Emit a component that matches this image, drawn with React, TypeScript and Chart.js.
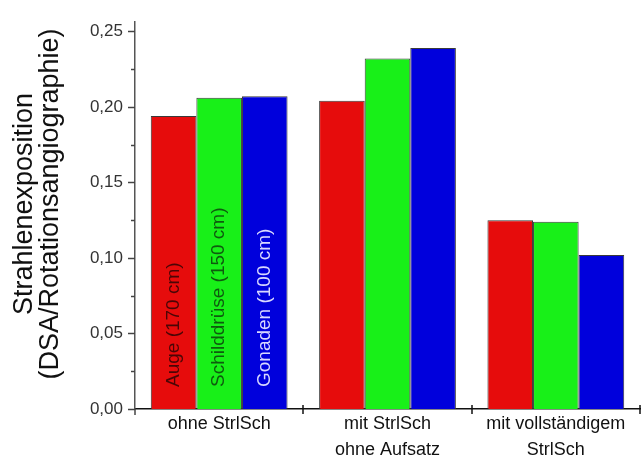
import React, { useEffect, useRef } from 'react';
import { Chart, registerables } from 'chart.js';

Chart.register(...registerables);

// ---- data ----
const categories: string[][] = [
  ['ohne StrlSch'],
  ['mit StrlSch', 'ohne Aufsatz'],
  ['mit vollständigem', 'StrlSch'],
];
const seriesNames = ['Auge (170 cm)', 'Schilddrüse (150 cm)', 'Gonaden (100 cm)'];
const auge = [0.194, 0.204, 0.125];
const schilddruese = [0.206, 0.232, 0.124];
const gonaden = [0.207, 0.239, 0.102];
const yTickValues = [0, 0.025, 0.05, 0.075, 0.1, 0.125, 0.15, 0.175, 0.2, 0.225, 0.25];
const yMax = 0.256;
const yTitle = ['Strahlenexposition', '(DSA/Rotationsangiographie)'];

const FONT = '"Liberation Sans", Arial, sans-serif';
const barColors = ['#e60c0c', '#18f018', '#0000dc'];
const barTextColors = ['#4a0606', '#0f5a0f', '#d8d8ff'];

const decorPlugin = {
  id: 'decor',
  afterDraw(chart: any) {
    const { ctx, scales } = chart;
    const x = scales.x;
    const y = scales.y;
    const left = chart.chartArea.left;
    const bottom = y.getPixelForValue(0);
    ctx.save();
    // y axis tick marks
    ctx.strokeStyle = '#444';
    ctx.lineWidth = 1.5;
    yTickValues.forEach((v, i) => {
      const py = Math.round(y.getPixelForValue(v)) + 0.5;
      const len = i % 2 === 0 ? 7 : 4;
      ctx.beginPath();
      ctx.moveTo(left - len, py);
      ctx.lineTo(left, py);
      ctx.stroke();
    });
    // y axis extension below x axis
    ctx.beginPath();
    ctx.moveTo(left, bottom);
    ctx.lineTo(left, bottom + 6);
    ctx.stroke();
    // x axis tick marks at category boundaries
    ctx.strokeStyle = '#111';
    for (let i = 1; i <= categories.length; i++) {
      const px = Math.round(x.getPixelForValue(i - 0.5));
      ctx.beginPath();
      ctx.moveTo(px, bottom - 4);
      ctx.lineTo(px, bottom + 5);
      ctx.stroke();
    }
    // y title
    ctx.fillStyle = '#111';
    ctx.font = `27px ${FONT}`;
    ctx.textAlign = 'center';
    ctx.textBaseline = 'middle';
    ctx.translate(38, 204);
    ctx.rotate(-Math.PI / 2);
    ctx.fillText(yTitle[0], 0, -13);
    ctx.fillText(yTitle[1], 0, 13);
    ctx.restore();

    // series labels inside first group's bars
    ctx.save();
    ctx.font = `19px ${FONT}`;
    ctx.textAlign = 'left';
    ctx.textBaseline = 'middle';
    chart.data.datasets.forEach((ds: any, i: number) => {
      const bar = chart.getDatasetMeta(i).data[0];
      ctx.save();
      ctx.fillStyle = barTextColors[i];
      ctx.translate(bar.x, bottom - 22);
      ctx.rotate(-Math.PI / 2);
      ctx.fillText(ds.label, 0, 0);
      ctx.restore();
    });
    ctx.restore();
  },
};

export default function App() {
  const ref = useRef<HTMLCanvasElement>(null);
  useEffect(() => {
    if (!ref.current) return;
    const seriesData = [auge, schilddruese, gonaden];
    const chart = new Chart(ref.current, {
      type: 'bar',
      data: {
        labels: categories,
        datasets: seriesNames.map((name, i) => ({
          label: name,
          data: seriesData[i],
          backgroundColor: barColors[i],
          borderColor: '#3a3a3a',
          borderWidth: 1,
          categoryPercentage: 0.8125,
          barPercentage: 1,
        })),
      },
      options: {
        animation: false,
        responsive: true,
        maintainAspectRatio: false,
        layout: { padding: { top: 18, right: 2, left: 0, bottom: 0 } },
        plugins: { legend: { display: false }, tooltip: { enabled: false } },
        scales: {
          x: {
            offset: true,
            grid: { display: false, drawTicks: false, offset: true },
            border: { display: true, color: '#111', width: 1.5 },
            ticks: {
              color: '#111',
              font: { family: FONT, size: 18, lineHeight: 1.45 },
              padding: 2,
              maxRotation: 0,
              autoSkip: false,
            },
            afterFit: (s: any) => { s.height = 48; },
          },
          y: {
            min: 0,
            max: yMax,
            grid: { display: false, drawTicks: false },
            border: { display: true, color: '#555', width: 1.5 },
            ticks: {
              color: '#333',
              font: { family: FONT, size: 17 },
              padding: 12,
              autoSkip: false,
              callback: (v: any) => {
                const idx = yTickValues.findIndex((t) => Math.abs(t - v) < 1e-9);
                return idx % 2 === 0 ? Number(v).toFixed(2).replace('.', ',') : '';
              },
            },
            afterBuildTicks: (s: any) => { s.ticks = yTickValues.map((v) => ({ value: v })); },
            afterFit: (s: any) => { s.width = 135; },
          },
        },
      },
      plugins: [decorPlugin],
    });
    return () => chart.destroy();
  }, []);
  return (
    <div style={{ position: 'absolute', left: 0, top: 0, width: 642, height: 457, background: '#fff' }}>
      <canvas ref={ref} />
    </div>
  );
}
